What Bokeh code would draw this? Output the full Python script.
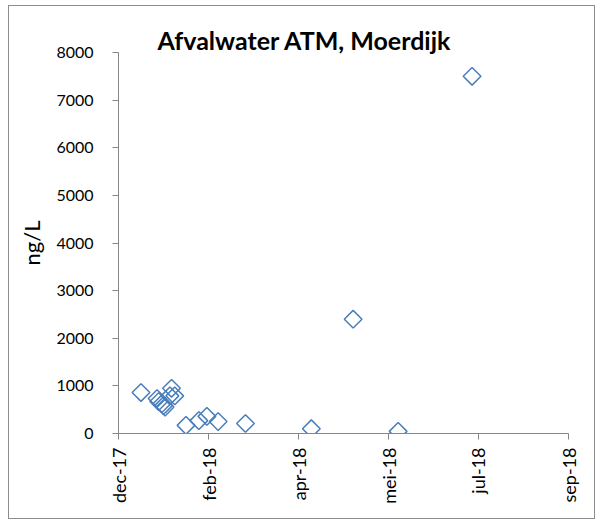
import pandas as pd
from bokeh.plotting import figure
from bokeh.models import FixedTicker, Range1d
from bokeh.embed import file_html
from bokeh.resources import INLINE

# ---- data ----
axis_start = "2017-12-12"
dates = ["2017-12-26", "2018-01-05", "2018-01-06", "2018-01-08", "2018-01-09",
         "2018-01-10", "2018-01-13", "2018-01-14", "2018-01-16", "2018-01-23",
         "2018-01-31", "2018-02-05", "2018-02-12", "2018-03-01", "2018-04-11",
         "2018-05-07", "2018-06-04", "2018-07-20"]
values = [860, 735, 670, 625, 585, 555, 790, 950, 790, 170,
          270, 360, 250, 210, 100, 2400, 45, 7500]
x_tick_days = [0, 56, 112, 168, 224, 280]
x_tick_labels = ["dec-17", "feb-18", "apr-18", "mei-18", "jul-18", "sep-18"]
y_ticks = [0, 1000, 2000, 3000, 4000, 5000, 6000, 7000, 8000]
title_text = "Afvalwater ATM, Moerdijk"
y_label = "ng/L"

days = [(pd.Timestamp(d) - pd.Timestamp(axis_start)).days for d in dates]

FONT = "Lato"
AXIS_COLOR = "#868686"
BLUE = "#4A7EBB"

p = figure(frame_width=450, frame_height=381, output_backend="svg",
           toolbar_location=None, min_border_left=109, min_border_right=26,
           min_border_top=46, min_border_bottom=85,
           x_range=Range1d(0, 280), y_range=Range1d(0, 8000),
           title=title_text)
p.margin = (5, 0, 0, 8)
p.styles = {"border": "1px solid #8c8c8c"}
p.outline_line_color = None
p.xgrid.visible = False
p.ygrid.visible = False

p.title.text_font = FONT
p.title.text_font_size = "25px"
p.title.text_font_style = "bold"
p.title.text_color = "#000000"
p.title.align = "left"
p.title.offset = 39
p.title.standoff = -5

p.scatter(days, values, marker="square", angle=0.785398, size=12.5,
          fill_color=None, line_color=BLUE, line_width=1.5)

p.xaxis.ticker = FixedTicker(ticks=x_tick_days)
p.xaxis.major_label_overrides = {d: l for d, l in zip(x_tick_days, x_tick_labels)}
p.xaxis.major_label_orientation = 1.5707963
p.yaxis.ticker = FixedTicker(ticks=y_ticks)

for ax in (p.xaxis, p.yaxis):
    ax.axis_line_color = AXIS_COLOR
    ax.major_tick_line_color = AXIS_COLOR
    ax.minor_tick_line_color = None
    ax.major_tick_in = 0
    ax.major_tick_out = 6
    ax.major_label_text_font = FONT
    ax.major_label_text_color = "#000000"

p.xaxis.major_label_text_font_size = "18px"
p.yaxis.major_label_text_font_size = "16px"
p.yaxis.major_label_standoff = 19
p.xaxis.major_label_standoff = 8
p.yaxis.axis_label = y_label
p.yaxis.axis_label_text_font = FONT
p.yaxis.axis_label_text_font_size = "22px"
p.yaxis.axis_label_text_font_style = "normal"
p.yaxis.axis_label_text_color = "#000000"
p.yaxis.axis_label_standoff = 8

open("out.html", "w").write(file_html(p, INLINE))
